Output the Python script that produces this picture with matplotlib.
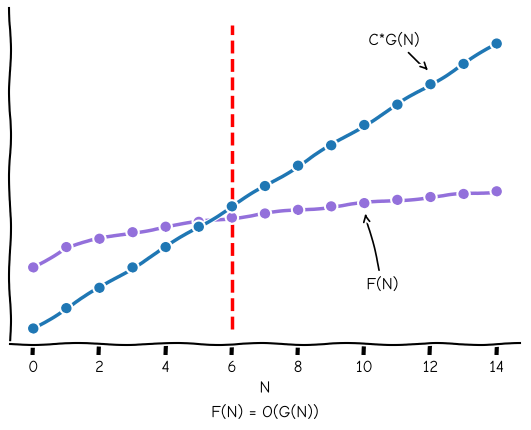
import matplotlib
matplotlib.use("Agg")
import matplotlib.pyplot as plt
import logging

logging.getLogger("matplotlib.font_manager").setLevel(logging.ERROR)

# values
n_values = [0, 1, 2, 3, 4, 5, 6, 7, 8, 9, 10, 11, 12, 13, 14]
g_values = [0, 1, 2, 3, 4, 5, 6, 7, 8, 9, 10, 11, 12, 13, 14]
f_values = [3.0, 4.0, 4.41, 4.73, 5.0, 5.24, 5.45, 5.65, 5.83, 6.0, 6.16, 6.32, 6.46, 6.61, 6.74]
n0 = 6
n0_span = [0, 14.9]
x_ticks = [0, 2, 4, 6, 8, 10, 12, 14]

with plt.xkcd():
    fig = plt.figure(figsize=(5.31, 4.3), dpi=100)
    ax = fig.add_axes([0.019, 0.2, 0.96, 0.781])

    # threshold line is drawn straight in the reference
    red, = ax.plot([n0, n0], n0_span, color='red', linestyle='--', linewidth=2.5)
    red.set_sketch_params(None)
    ax.plot(n_values, f_values, color='mediumpurple', marker='o', markersize=6, linewidth=2.5)
    ax.plot(n_values, g_values, color='#1f77b4', marker='o', markersize=6, linewidth=2.5)

    ax.spines['top'].set_visible(False)
    ax.spines['right'].set_visible(False)
    ax.set_yticks([])
    ax.set_xticks(x_ticks)
    ax.set_xlim(-0.7, 14.7)
    ax.set_ylim(-0.75, 15.75)

    ax.annotate('C*G(N)', xy=(12.0, 12.6), xytext=(10.9, 14.2),
                ha='center', va='center', fontsize=12,
                arrowprops=dict(arrowstyle='->', color='black', lw=1.2))
    ax.annotate('F(N)', xy=(10.0, 5.8), xytext=(10.55, 2.2),
                ha='center', va='center', fontsize=12,
                arrowprops=dict(arrowstyle='->', color='black', lw=1.2))

    ax.set_xlabel('N\nF(N) = O(G(N))', fontsize=12, linespacing=1.6)
    ax.tick_params(axis='x', labelsize=12)

    fig.savefig('out.png', dpi=100)
